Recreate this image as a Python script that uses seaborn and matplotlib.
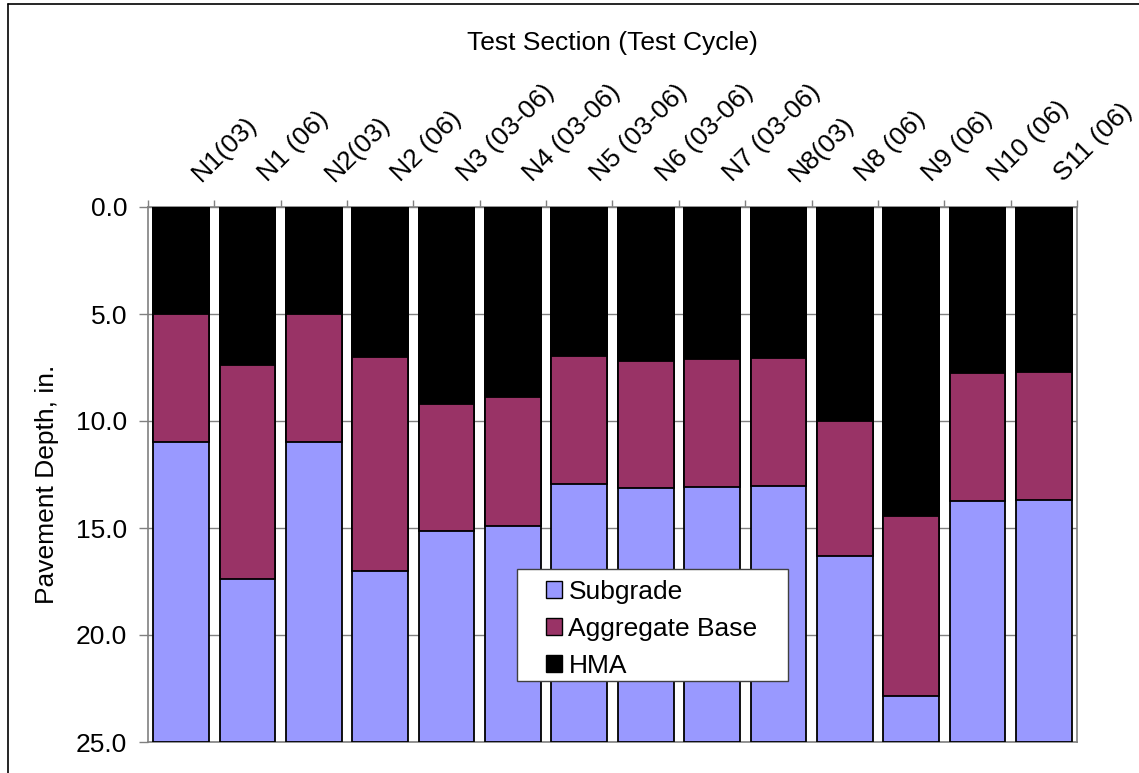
import matplotlib
matplotlib.use("Agg")
import matplotlib.pyplot as plt
import matplotlib.transforms as mtransforms
import seaborn as sns
import pandas as pd
import numpy as np
from matplotlib.lines import Line2D
from matplotlib.patches import Patch, Rectangle
from matplotlib.legend_handler import HandlerPatch

# Layer thicknesses (inches) for each test section
sections = ["N1(03)", "N1 (06)", "N2(03)", "N2 (06)", "N3 (03-06)", "N4 (03-06)",
            "N5 (03-06)", "N6 (03-06)", "N7 (03-06)", "N8(03)", "N8 (06)",
            "N9 (06)", "N10 (06)", "S11 (06)"]
hma = [5.0, 7.4, 5.0, 7.0, 9.2, 8.9, 6.95, 7.2, 7.1, 7.05, 10.0, 14.45, 7.75, 7.7]
aggregate_base = [6.0, 10.0, 6.0, 10.0, 5.95, 6.0, 6.0, 5.95, 6.0, 6.0, 6.3, 8.4, 6.0, 6.0]
chart_depth = 25.0

sns.set_theme(style="white")
plt.rcParams["font.family"] = ["Liberation Sans", "DejaVu Sans"]
plt.rcParams.update({"text.color": "black", "axes.labelcolor": "black",
                     "xtick.labelcolor": "black", "ytick.labelcolor": "black"})

FS = 19
W, H = 1139, 773

df = pd.DataFrame({"section": sections, "hma": hma, "base": aggregate_base})
df["base_bottom"] = df["hma"] + df["base"]
df["subgrade_bottom"] = chart_depth

colors = {"Subgrade": "#9999FF", "Aggregate Base": "#993366", "HMA": "#000000"}

fig = plt.figure(figsize=(W / 100, H / 100), dpi=100)
ax_l, ax_r, ax_t, ax_b = 148, 1077, 207, 742
ax = fig.add_axes([ax_l / W, 1 - ax_b / H, (ax_r - ax_l) / W, (ax_b - ax_t) / H])


def px_to_axes(x, y):
    return (x - ax_l) / (ax_r - ax_l), 1 - (y - ax_t) / (ax_b - ax_t)


# Stacked depth bars: deepest layer first, shallower layers drawn over it
for col, name in [("subgrade_bottom", "Subgrade"), ("base_bottom", "Aggregate Base"), ("hma", "HMA")]:
    sns.barplot(data=df, x="section", y=col, color=colors[name], width=0.84,
                edgecolor="black", linewidth=1.3, saturation=1, ax=ax, zorder=3)

ax.set_ylim(chart_depth, 0)
ax.set_xlim(-0.5, len(sections) - 0.5)
yt = np.arange(0, 26, 5)
ax.set_yticks(yt)
ax.set_yticklabels([f"{v:.1f}" for v in yt], fontsize=FS)
ax.yaxis.grid(True, color="#808080", linewidth=1.0, zorder=0)
ax.set_axisbelow(True)

# Category labels along the top, slanted
ax.xaxis.tick_top()
ax.xaxis.set_label_position("top")
ax.set_xticks(range(len(sections)))
ax.set_xticklabels(sections, rotation=45, ha="left", va="baseline",
                   rotation_mode="anchor", fontsize=FS)
ax.tick_params(axis="x", which="major", length=0, pad=18, labelcolor="black")
shift = mtransforms.ScaledTranslation(0.2, 0, fig.dpi_scale_trans)
for lbl in ax.get_xticklabels():
    lbl.set_transform(lbl.get_transform() + shift)
ax.set_xticks(np.arange(-0.5, len(sections), 1), minor=True)
ax.tick_params(axis="x", which="minor", top=True, bottom=False, length=5,
               color="#808080", width=1, direction="out")
ax.tick_params(axis="y", left=True, length=6.5, color="#808080", width=1,
               direction="out", pad=8.5, labelcolor="black")

ax.set_xlabel("Test Section (Test Cycle)", fontsize=FS, color="black")
ax.xaxis.set_label_coords(*px_to_axes(612, 43))
ax.xaxis.label.set_va("center")
ax.xaxis.label.set_ha("center")
ax.set_ylabel("Pavement Depth, in.", fontsize=FS, color="black")
ax.yaxis.set_label_coords(*px_to_axes(47, 484))
ax.yaxis.label.set_va("center")
ax.yaxis.label.set_ha("center")

for side in ["left", "right", "bottom", "top"]:
    ax.spines[side].set_color("#808080")
    ax.spines[side].set_linewidth(1.2)

# Legend box
x0, y0 = px_to_axes(517, 681)
x1, y1 = px_to_axes(788, 569)
ax.add_patch(Rectangle((x0, y0), x1 - x0, y1 - y0, transform=ax.transAxes,
                       facecolor="white", edgecolor="#404040", linewidth=1.0,
                       zorder=9))


def square_patch(legend, orig_handle, xdescent, ydescent, width, height, fontsize):
    s = 0.64 * fontsize
    return Rectangle((-xdescent + width - s, -ydescent + (height - s) / 2), s, s)


handles = [Patch(facecolor=colors[k], edgecolor="black", linewidth=1.0, label=k)
           for k in ["Subgrade", "Aggregate Base", "HMA"]]
leg = ax.legend(handles=handles, loc="upper left",
                bbox_to_anchor=px_to_axes(517, 569),
                fontsize=FS, frameon=False,
                handler_map={Patch: HandlerPatch(patch_func=square_patch)},
                handlelength=1.32, handleheight=0.7, handletextpad=0.23,
                labelspacing=0.5, borderpad=0.4, borderaxespad=0)
for t in leg.get_texts():
    t.set_color("black")
leg.set_zorder(10)

# Outer frame
fig.add_artist(Line2D([8 / W, 8 / W], [0, 1 - 4 / H], color="black",
                      linewidth=1.2, transform=fig.transFigure))
fig.add_artist(Line2D([8 / W, 1], [1 - 4 / H, 1 - 4 / H], color="black",
                      linewidth=1.2, transform=fig.transFigure))

fig.savefig("out.png", dpi=100)
